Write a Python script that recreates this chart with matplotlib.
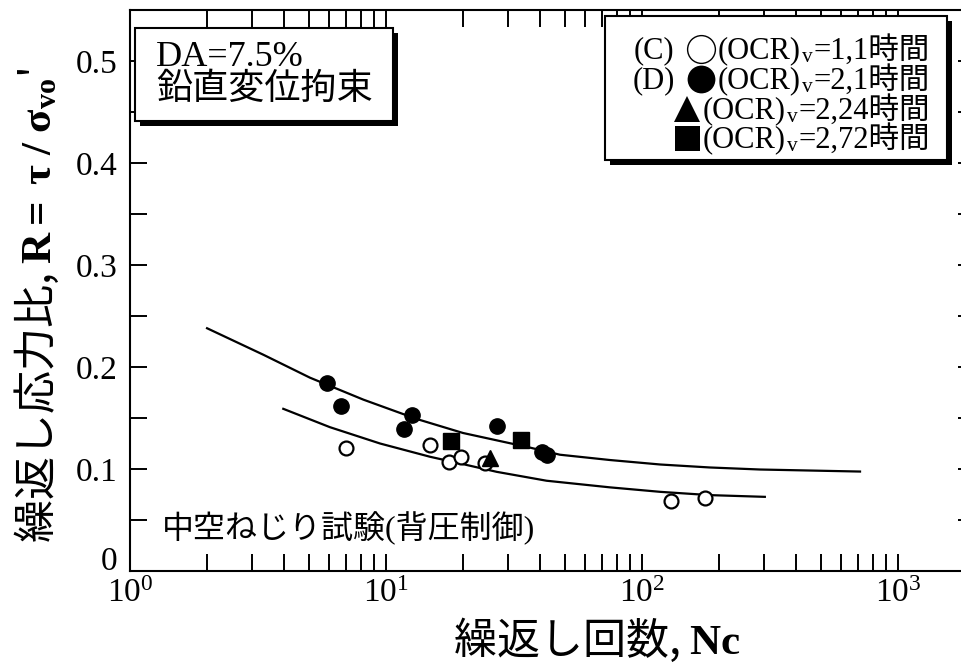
import matplotlib
matplotlib.use('Agg')
import matplotlib.pyplot as plt
import matplotlib.ticker as mticker
from matplotlib.patches import Rectangle
from matplotlib.lines import Line2D
from matplotlib.offsetbox import TextArea, DrawingArea, HPacker, AnchoredOffsetbox

plt.rcParams['font.family'] = ['Liberation Serif', 'Noto Sans CJK JP']
plt.rcParams['mathtext.fontset'] = 'custom'
plt.rcParams['mathtext.rm'] = 'Liberation Serif'
plt.rcParams['mathtext.it'] = 'Liberation Serif:italic'
plt.rcParams['mathtext.bf'] = 'Liberation Serif:bold'

# 試験結果 (繰返し回数 Nc, 応力比 R)
open_n = [7.0, 14.8, 17.7, 19.7, 24.4, 130, 176]
open_r = [0.121, 0.124, 0.107, 0.112, 0.106, 0.069, 0.072]
filled_n = [5.9, 6.65, 11.75, 12.6, 27.1, 40.8, 42.5]
filled_r = [0.184, 0.162, 0.139, 0.153, 0.142, 0.117, 0.114]
tri_n = [25.5]
tri_r = [0.111]
sq_n = [18.0, 33.6]
sq_r = [0.127, 0.128]

# 液状化強度曲線 (読み取り値)
upper_n = [2.0, 3.32, 5.05, 8.16, 13.2, 20.0, 36.5, 47.8, 75, 118, 184, 289, 711]
upper_r = [0.238, 0.212, 0.1895, 0.168, 0.149, 0.1353, 0.121, 0.114, 0.1088, 0.1044, 0.1015,
           0.0995, 0.0975]
lower_n = [3.97, 6.04, 9.48, 14.86, 20.05, 27.1, 42.4, 75, 118, 184, 302]
lower_r = [0.159, 0.141, 0.125, 0.112, 0.1047, 0.0972, 0.0885, 0.082, 0.0776, 0.0744, 0.0727]

y_ticks = [0, 0.1, 0.2, 0.3, 0.4, 0.5]
y_labels = ['', '0.1', '0.2', '0.3', '0.4', '0.5']

legend_prefix = ['(C)', '(D)', '', '']
legend_value = ['=1,1時間', '=2,1時間', '=2,24時間', '=2,72時間']

W, H = 962, 663
fig = plt.figure(figsize=(W / 100, H / 100), dpi=100)


def fx(px):
    return px / W


def fy(py):
    return 1 - py / H


ax = fig.add_axes([fx(130), fy(571), (975 - 130) / W, (571 - 10) / H])

ax.plot(upper_n, upper_r, color='k', lw=1.6, zorder=2)
ax.plot(lower_n, lower_r, color='k', lw=1.6, zorder=2)
ax.plot(open_n, open_r, 'o', ms=10, mfc='white', mec='k', mew=1.6, zorder=3)
ax.plot(filled_n, filled_r, 'o', ms=11, color='k', zorder=3)
ax.plot(tri_n, tri_r, '^', ms=11, color='k', zorder=3)
ax.plot(sq_n, sq_r, 's', ms=11.5, color='k', zorder=3)

ax.set_xscale('log')
ax.set_xlim(1, 2000)
ax.set_ylim(0, 0.55)
ax.xaxis.set_major_locator(mticker.LogLocator(base=10, numticks=10))
ax.xaxis.set_minor_locator(mticker.LogLocator(base=10, subs=range(2, 10), numticks=10))
ax.xaxis.set_minor_formatter(mticker.NullFormatter())
ax.yaxis.set_major_locator(mticker.FixedLocator(y_ticks))
ax.yaxis.set_major_formatter(mticker.FixedFormatter(y_labels))
ax.yaxis.set_minor_locator(mticker.MultipleLocator(0.05))

ax.tick_params(which='both', direction='in', length=12, width=1.4,
               top=True, right=True, labelsize=24)
ax.tick_params(axis='x', pad=5)
ax.tick_params(axis='y', pad=9)
for s in ax.spines.values():
    s.set_linewidth(1.5)

# "0" は少し上にずらして書く
fig.text(fx(117), fy(558), '0', ha='right', va='center_baseline', size=24)

# 軸ラベル
fig.text(fx(37), fy(305), '繰返し応力比, $\\mathbf{R=\\ \\tau\\ /\\ \\sigma_{vo}}$\'',
         rotation=90, ha='center', va='center', size=31, family='Noto Sans CJK JP')
fig.text(fx(597), fy(640), '繰返し回数, $\\mathbf{Nc}$',
         ha='center', va='center', size=31, family='Noto Sans CJK JP')


def shadow_box(x0, y0, x1, y1, off=5):
    w, h = (x1 - x0) / W, (y1 - y0) / H
    fig.add_artist(Rectangle((fx(x0 + off), fy(y1 + off)), w, h, transform=fig.transFigure,
                             fc='k', ec='k', lw=0, zorder=4))
    fig.add_artist(Rectangle((fx(x0), fy(y1)), w, h, transform=fig.transFigure,
                             fc='white', ec='k', lw=1.5, zorder=4.1))


shadow_box(135, 28, 393, 121)
shadow_box(605, 16, 947, 160)

fig.text(fx(156), fy(74), 'DA=7.5%\n鉛直変位拘束', size=26, va='center', ha='left',
         linespacing=0.95, zorder=5)
fig.text(fx(162), fy(528), '中空ねじり試験(背圧制御)', size=23, va='center', zorder=5)

# 凡例
markers = [('o', 'white', 20, 1.0), ('o', 'k', 20, 0), ('^', 'k', 19, 0), ('s', 'k', 18, 0)]
row_y = [50, 80, 110, 139]
for i in range(4):
    kids = []
    if legend_prefix[i]:
        kids.append(TextArea(legend_prefix[i], textprops=dict(size=22)))
    m, fc, ms, mew = markers[i]
    da = DrawingArea(31 if legend_prefix[i] else 22, 22, 0, 5)
    cx = 19 if legend_prefix[i] else 11
    da.add_artist(Line2D([cx], [6.5], marker=m, ms=ms, mfc=fc, mec='k', mew=mew, ls=''))
    kids.append(da)
    kids.append(TextArea('(OCR)', textprops=dict(size=22)))
    kids.append(TextArea('$_\\mathregular{v}$', textprops=dict(size=22)))
    kids.append(TextArea(legend_value[i], textprops=dict(size=22)))
    row = HPacker(children=kids, align='baseline', pad=0, sep=0)
    ab = AnchoredOffsetbox(loc='center right', child=row, pad=0, borderpad=0, frameon=False,
                           bbox_to_anchor=(fx(930), fy(row_y[i])),
                           bbox_transform=fig.transFigure)
    ab.set_zorder(5)
    fig.add_artist(ab)

fig.savefig('out.png', dpi=100)
